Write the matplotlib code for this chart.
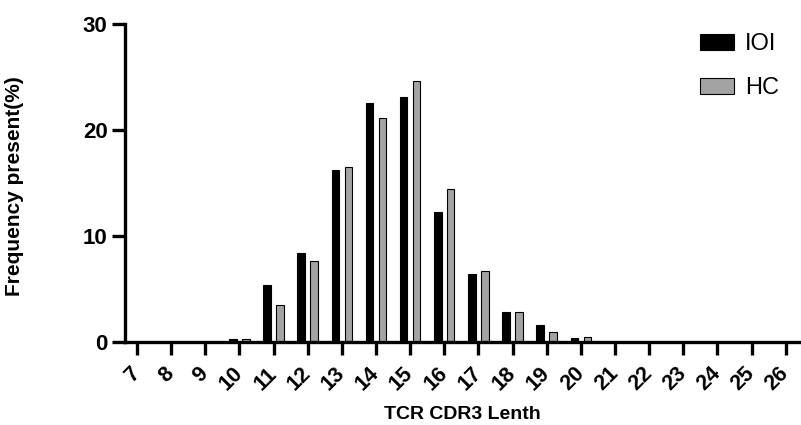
import numpy as np
import matplotlib.pyplot as plt

plt.rcParams['font.family'] = ['Liberation Sans', 'DejaVu Sans']

# CDR3 lengths and frequencies (%)
lengths = list(range(7, 27))
ioi = [0, 0, 0, 0.3, 5.4, 8.4, 16.2, 22.5, 23.1, 12.3, 6.4, 2.8, 1.6, 0.4,
       0.05, 0, 0, 0, 0, 0]
hc = [0, 0, 0, 0.3, 3.5, 7.6, 16.5, 21.1, 24.6, 14.4, 6.7, 2.8, 1.0, 0.5,
      0.05, 0, 0, 0, 0, 0]

fig = plt.figure(figsize=(8.01, 4.25), dpi=100)
ax = fig.add_axes([0.156, 0.195, 0.842, 0.749])

x = np.array(lengths)
w = 0.22
ax.bar(x - 0.19, ioi, w, color='black', edgecolor='black', linewidth=0.8, label='IOI')
ax.bar(x + 0.19, hc, w, color='#a3a3a3', edgecolor='black', linewidth=0.8, label='HC')

ax.set_xlim(6.65, 26.4)
ax.set_ylim(0, 30)
ax.set_yticks([0, 10, 20, 30])
ax.set_xticks(lengths)
ax.set_xticklabels([str(v) for v in lengths], rotation=45, ha='right', va='center',
                   rotation_mode='anchor', fontsize=15.5, fontweight='bold')
for lab in ax.get_yticklabels():
    lab.set_fontsize(16)
    lab.set_fontweight('bold')

for s in ['top', 'right']:
    ax.spines[s].set_visible(False)
for s in ['left', 'bottom']:
    ax.spines[s].set_linewidth(2.4)
ax.tick_params(axis='both', width=2.4, length=9.5, pad=3)
ax.tick_params(axis='x', pad=11)

ax.set_xlabel('TCR CDR3 Lenth', fontsize=14, fontweight='bold', labelpad=8)
ax.set_ylabel('Frequency present(%)', fontsize=15, fontweight='bold')
ax.yaxis.set_label_coords(-0.15, 0.49)

ax.legend(loc='upper left', bbox_to_anchor=(700 / 801, 1 - 33 / 425),
          bbox_transform=fig.transFigure, frameon=False, fontsize=17,
          borderaxespad=0, borderpad=0,
          handlelength=1.45, handleheight=0.65, labelspacing=0.95, handletextpad=0.45)

fig.savefig('out.png', dpi=100)
